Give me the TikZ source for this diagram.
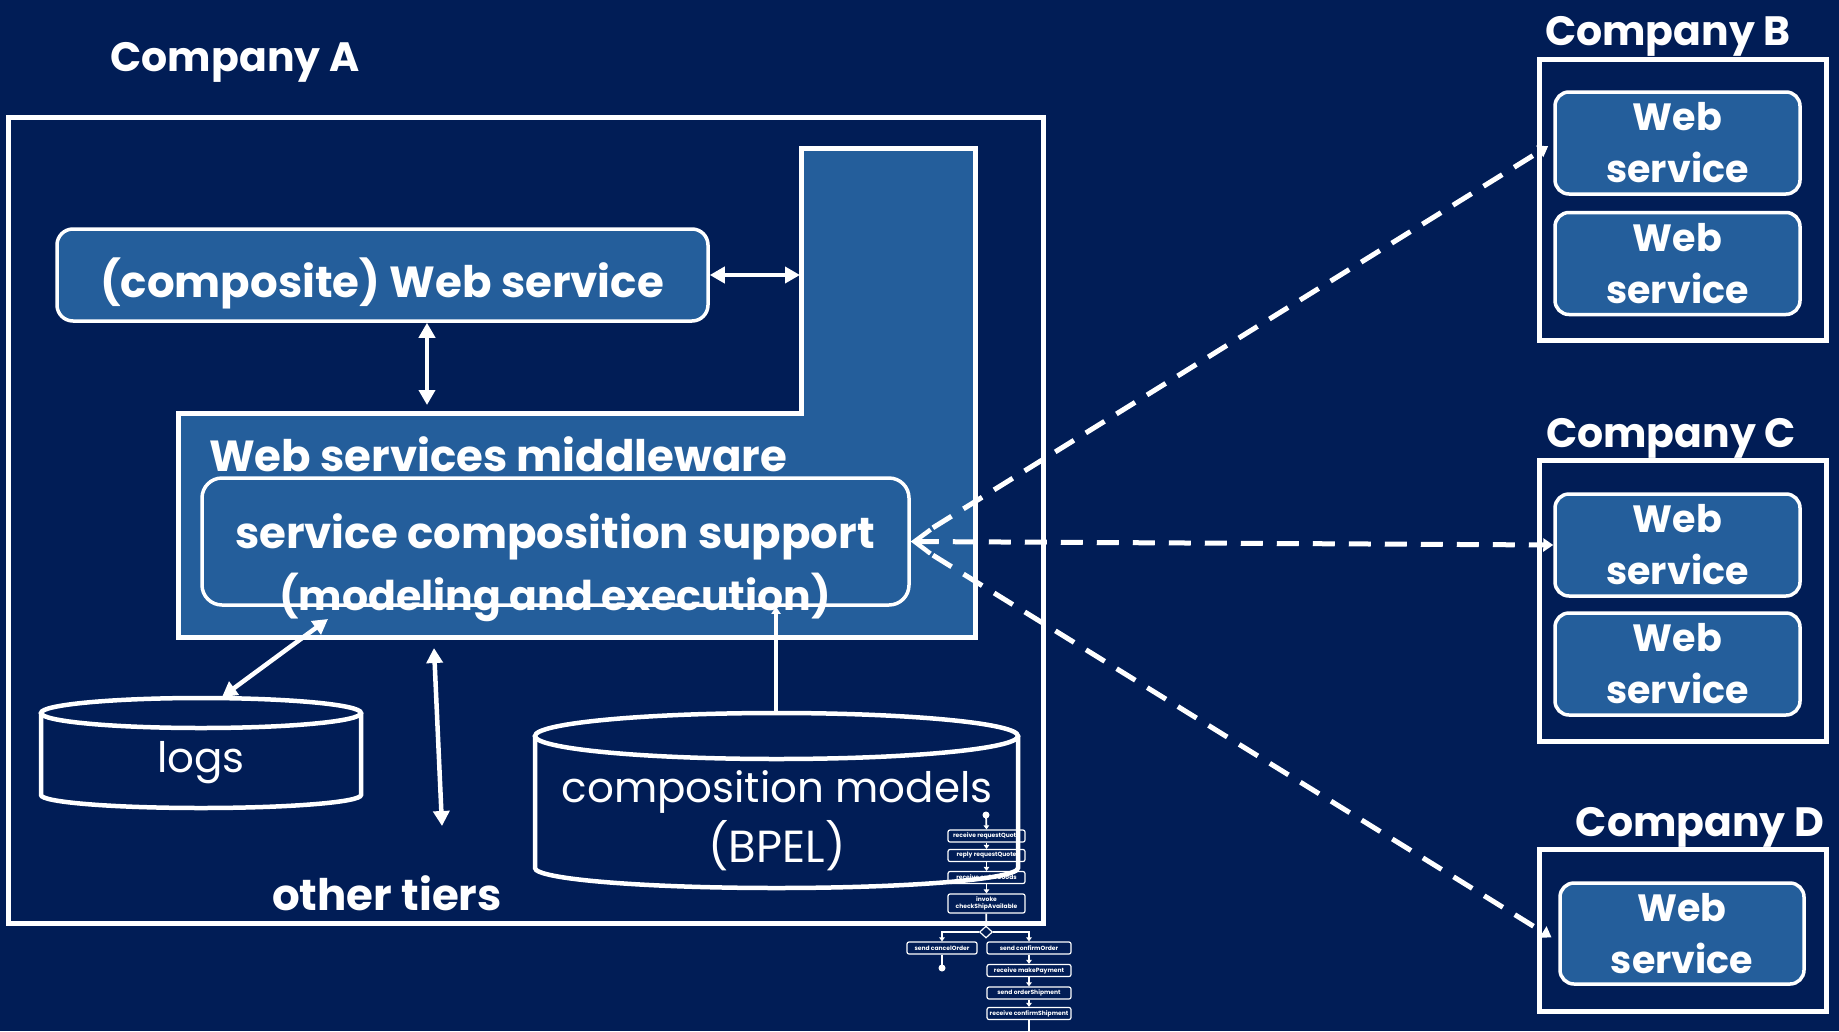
\documentclass[tikz,border=0pt]{standalone}
\usepackage{fontspec}
\setmainfont{Poppins}
\usetikzlibrary{arrows.meta,shapes.geometric}
\definecolor{navy}{RGB}{1,29,86}
\definecolor{boxblue}{RGB}{36,94,155}

\begin{document}
\begin{tikzpicture}[x=1pt,y=-1pt,
  every node/.style={text=white, inner sep=0pt},
  frame/.style={draw=white, line width=5pt},
  wsbox/.style={draw=white, line width=3.5pt, fill=boxblue, rounded corners=14pt,
    minimum width=245pt, minimum height=102pt, align=center,
    font=\fontsize{38}{52}\selectfont\bfseries},
  title/.style={font=\fontsize{41}{50}\selectfont\bfseries},
  big/.style={font=\fontsize{43.5}{58}\selectfont\bfseries, align=center},
  plain/.style={font=\fontsize{42}{57}\selectfont, align=center},
  cyl/.style={draw=white, line width=4.5pt},
  dbl/.style={draw=white, line width=4.5pt,
    {Triangle[length=15pt,width=16pt]}-{Triangle[length=15pt,width=16pt]}},
  dsh/.style={draw=white, line width=5pt, dash pattern=on 22pt off 14pt},
  farhead/.style={-{Triangle[length=10pt,width=13pt]}},
  flbox/.style={draw=white, line width=1.2pt, rounded corners=2pt, minimum height=12pt,
    font=\fontsize{6}{6.6}\selectfont\bfseries, align=center},
  fa/.style={draw=white, line width=1.8pt, -{Triangle[length=4pt,width=5.5pt]}},
  fl/.style={draw=white, line width=1.8pt}
]
\useasboundingbox (0,0) rectangle (1839,1031);
\fill[navy] (0,0) rectangle (1839,1031);

% ---------- Company A ----------
\node[title] (tA) at (235,62) {Company A};
\node[frame, minimum width=1035pt, minimum height=806pt] (coA) at (525.5,520) {};

% middleware (L-shaped block)
\filldraw[fill=boxblue, draw=white, line width=5pt]
  (801,148) -- (975,148) -- (975,637) -- (178,637) -- (178,413) -- (801,413) -- cycle;
\node[big, anchor=west] (mw) at (209,454) {Web services middleware};

% composite Web service
\node[draw=white, line width=3.5pt, fill=boxblue, rounded corners=16pt,
      minimum width=651pt, minimum height=92pt] (comp) at (382.5,275) {};
\node[big] (compT) at (382,283) {(composite) Web service};
\coordinate (barW) at (800,273);
\draw[dbl] (comp.east) -- (comp.east -| barW);
\coordinate (mwTop) at (427,405);
\draw[dbl] (comp.south -| mwTop) -- (mwTop);

% service composition support
\node[draw=white, line width=3.5pt, fill=boxblue, rounded corners=20pt,
      minimum width=707pt, minimum height=127pt] (scs) at (555.5,541.5) {};
\node[big] (scsA) at (555,537) {service composition support};
\node[big, font=\fontsize{41}{58}\selectfont\bfseries] (scsB) at (555,597) {(modeling and execution)};

% logs store
\draw[cyl] (201,713) ellipse[x radius=160pt, y radius=15pt];
\draw[cyl] (41,713) -- (41,795) arc[start angle=180, end angle=360, x radius=160pt, y radius=13pt] -- (361,713);
\node[plain] (logs) at (201,763) {logs};
\coordinate (logsTop) at (222,697);
\coordinate (scsLow) at (328,619);
\draw[dbl] (logsTop) -- (scsLow);

% other tiers
\coordinate (otTop) at (434,648);
\coordinate (otBot) at (442,826);
\draw[dbl] (otTop) -- (otBot);
\node[big] (ot) at (387,893) {other tiers};

% ---------- BPEL process sketch ----------
\fill[white] (986,815) circle[radius=3.5pt] coordinate (fstart);
\node[flbox, minimum width=77pt] (f1) at (986.5,836) {receive requestQuote};
\node[flbox, minimum width=77pt] (f2) at (986.5,855.5) {reply requestQuote};
\node[flbox, minimum width=77pt] (f3) at (986.5,877.5) {receive orderGoods};
\node[flbox, minimum width=77pt, minimum height=19pt] (f4) at (986.5,903.5) {invoke\\checkShipAvailable};
\node[diamond, draw=white, line width=1.2pt, minimum width=13pt, minimum height=12pt] (fd) at (986,932) {};
\node[flbox, minimum width=70pt] (f5) at (942,948) {send cancelOrder};
\node[flbox, minimum width=84pt] (f6) at (1029,948) {send confirmOrder};
\node[flbox, minimum width=84pt] (f7) at (1029,970.5) {receive makePayment};
\node[flbox, minimum width=84pt] (f8) at (1029,993) {send orderShipment};
\node[flbox, minimum width=84pt] (f9) at (1029,1013.5) {receive confirmShipment};
\fill[white] (942,968) circle[radius=3.5pt] coordinate (fend);
\coordinate (fout) at (1029,1034);
\draw[fa] (fstart) -- (f1.north);
\draw[fa] (f1) -- (f2);
\draw[fa] (f2) -- (f3);
\draw[fa] (f3) -- (f4);
\draw[fl] (f4) -- (fd);
\draw[fa] (fd.west) -| (f5.north);
\draw[fa] (fd.east) -| (f6.north);
\draw[fa] (f5.south) -- ([yshift=-3pt]fend);
\draw[fa] (f6) -- (f7);
\draw[fa] (f7) -- (f8);
\draw[fa] (f8) -- (f9);
\draw[fl] (f9) -- (fout);

% composition models store
\draw[cyl] (776.5,736) ellipse[x radius=241.5pt, y radius=23pt];
\draw[cyl] (535,736) -- (535,868) arc[start angle=180, end angle=360, x radius=241.5pt, y radius=20pt] -- (1018,736);
\node[plain] (cm) at (777,792) {composition models};
\node[plain, font=\fontsize{45}{57}\selectfont] (bpel) at (777,846) {(BPEL)};
\coordinate (cmTop) at (776,713);
\draw[draw=white, line width=4pt, -{Triangle[length=7pt,width=9pt]}] (cmTop) -- (scs.south -| cmTop);

% ---------- Company B ----------
\node[title] (tB) at (1668,36) {Company B};
\node[frame, minimum width=287pt, minimum height=281pt] (coB) at (1682.5,199.5) {};
\node[wsbox] (ws1) at (1677.5,143) {Web\\service};
\node[wsbox] (ws2) at (1677.5,263.5) {Web\\service};

% ---------- Company C ----------
\node[title] (tC) at (1671,438) {Company C};
\node[frame, minimum width=287pt, minimum height=281pt] (coC) at (1682.5,600.5) {};
\node[wsbox] (ws3) at (1677.5,545) {Web\\service};
\node[wsbox] (ws4) at (1677.5,664) {Web\\service};

% ---------- Company D ----------
\node[title] (tD) at (1700,827) {Company D};
\node[frame, minimum width=287pt, minimum height=162pt] (coD) at (1682.5,930) {};
\node[wsbox, minimum width=244pt, minimum height=101pt] (ws5) at (1682,933.5) {Web\\service};

% ---------- invocations of partner services ----------
\draw[dsh, {Straight Barb[length=16pt,width=24pt,line width=4.5pt]}-{Triangle[length=10pt,width=13pt]}]
  (scs.east) -- (ws3.west);
\draw[dsh, farhead, shorten <=26pt, shorten >=6pt] (scs.east) -- (ws1.west);
\draw[dsh, farhead, shorten <=26pt, shorten >=8pt] (scs.east) -- ([yshift=-8pt]ws5.west);
\end{tikzpicture}
\end{document}
